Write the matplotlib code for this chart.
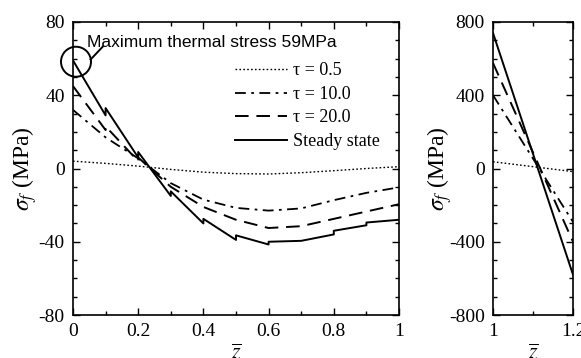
import matplotlib
matplotlib.use("Agg")
import matplotlib.pyplot as plt
from matplotlib.ticker import MultipleLocator
from matplotlib.patches import Ellipse

plt.rcParams['font.family'] = ['Liberation Serif', 'DejaVu Serif']
plt.rcParams['mathtext.fontset'] = 'stix'
plt.rcParams['axes.unicode_minus'] = False

# ---- data: left panel (0 <= z <= 1) ----
z_steady = [0, 0.1, 0.1, 0.2, 0.2, 0.3, 0.3, 0.4, 0.4, 0.5, 0.5, 0.6, 0.6, 0.7, 0.8, 0.8, 0.9, 0.9, 1.0]
s_steady = [59, 29, 33, 6, 9, -15, -12.5, -30, -27.5, -39, -36.5, -41.5, -40, -39.5, -36, -34, -31, -29.5, -28]

z_t20 = [0, 0.1, 0.1, 0.2, 0.2, 0.3, 0.4, 0.5, 0.6, 0.7, 0.8, 0.9, 1.0]
s_t20 = [45, 21, 23, 4, 6, -10, -21, -28, -32.5, -31.5, -27.5, -23.5, -19.5]

z_grid = [0, 0.1, 0.2, 0.3, 0.4, 0.5, 0.6, 0.7, 0.8, 0.9, 1.0]
s_t10 = [32, 17, 5.5, -8, -17, -21.5, -23, -21.8, -17.3, -13.3, -10.3]
s_t05 = [4, 2.8, 1.3, -0.5, -2, -2.8, -3, -2.3, -1.2, 0, 1]

# ---- data: right panel (1 <= z <= 1.2) ----
z_right = [1.0, 1.2]
r_steady = [740, -580]
r_t20 = [576, -400]
r_t10 = [400, -292]
r_t05 = [37, -17]

labels = ['τ = 0.5', 'τ = 10.0', 'τ = 20.0', 'Steady state']
annot_text = 'Maximum thermal stress 59MPa'

W, H = 581, 358
fig = plt.figure(figsize=(W / 100, H / 100), dpi=100)
axL = fig.add_axes([73 / W, 43 / H, 326 / W, 293 / H])
axR = fig.add_axes([493 / W, 43 / H, 80 / W, 293 / H])

sty_dot = dict(color='black', lw=1.0, linestyle=(0, (1.2, 1.6)))
sty_dd = dict(color='black', lw=1.3, linestyle=(0, (6, 3, 1.5, 3)))
sty_dash = dict(color='black', lw=1.4, linestyle=(0, (7, 4)))
sty_solid = dict(color='black', lw=1.4, linestyle='-')

axL.plot(z_grid, s_t05, label=labels[0], **sty_dot)
axL.plot(z_grid, s_t10, label=labels[1], **sty_dd)
axL.plot(z_t20, s_t20, label=labels[2], **sty_dash)
axL.plot(z_steady, s_steady, label=labels[3], **sty_solid)

axR.plot(z_right, r_t05, **sty_dot)
axR.plot(z_right, r_t10, **sty_dd)
axR.plot(z_right, r_t20, **sty_dash)
axR.plot(z_right, r_steady, **sty_solid)

axL.set_xlim(0, 1)
axL.set_ylim(-80, 80)
axL.xaxis.set_minor_locator(MultipleLocator(0.1))
axL.yaxis.set_major_locator(MultipleLocator(40))
axL.yaxis.set_minor_locator(MultipleLocator(10))
axL.set_xticks([0, 0.2, 0.4, 0.6, 0.8, 1.0])
axL.set_xticklabels(['0', '0.2', '0.4', '0.6', '0.8', '1'])

axR.set_xlim(1, 1.2)
axR.set_ylim(-800, 800)
axR.set_xticks([1.0, 1.2])
axR.set_xticklabels(['1', '1.2'])
axR.xaxis.set_minor_locator(MultipleLocator(0.1))
axR.yaxis.set_major_locator(MultipleLocator(400))
axR.yaxis.set_minor_locator(MultipleLocator(100))

for ax in (axL, axR):
    ax.tick_params(which='both', direction='in', top=True, right=True,
                   labelsize=14, width=1.0, pad=6)
    ax.tick_params(which='major', length=5)
    ax.tick_params(which='minor', length=3)
    for sp in ax.spines.values():
        sp.set_linewidth(1.2)
    ax.set_xlabel(r'$\overline{z}$', fontsize=16, labelpad=2)

axL.set_ylabel(r'$\sigma_f$ (MPa)', fontsize=17, labelpad=0)
axR.set_ylabel(r'$\sigma_f$ (MPa)', fontsize=17, labelpad=-4)

leg = axL.legend(loc='upper left', bbox_to_anchor=(0.497, 0.862), frameon=False,
                 fontsize=13, handlelength=2.9, handletextpad=0.3,
                 labelspacing=0.36, borderpad=0, borderaxespad=0)

# annotation of max stress
circ = Ellipse((0.0092, 58.3), width=2 * 15 / 326, height=2 * 15 / 1.831,
               fill=False, edgecolor='black', lw=1.4, clip_on=False)
axL.add_patch(circ)
axL.plot([0.054, 0.091], [59.5, 66.5], color='black', lw=1.4, clip_on=False)
axL.text(0.043, 69.0, annot_text, fontsize=12.5, family=['Liberation Sans', 'DejaVu Sans'],
         ha='left', va='center')

fig.savefig('out.png', dpi=100)
